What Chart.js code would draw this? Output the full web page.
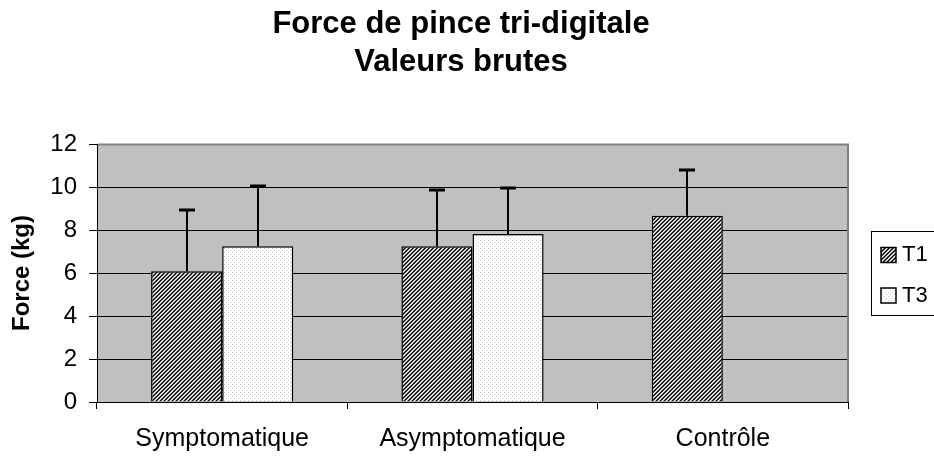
<!DOCTYPE html>
<html>
<head>
<meta charset="utf-8">
<script src="https://cdn.jsdelivr.net/npm/chart.js@4.4.0/dist/chart.umd.min.js"></script>
<style>
  html, body { margin: 0; padding: 0; background: #fff; }
</style>
</head>
<body>
<canvas id="chart" width="934" height="457"></canvas>
<script>
const categories = ["Symptomatique", "Asymptomatique", "Contrôle"];
const t1Values = [6.08, 7.25, 8.66];
const t3Values = [7.25, 7.81, null];
// ecarts (barre d'erreur vers le haut)
const t1Errors = [2.87, 2.59, 2.11];
const t3Errors = [2.81, 2.14, null];
const yTicks = [0, 2, 4, 6, 8, 10, 12];
const titleLines = ["Force de pince tri-digitale", "Valeurs brutes"];

const FONT = '"Liberation Sans", Arial, sans-serif';
const canvas = document.getElementById('chart');
const ctx = canvas.getContext('2d');

function hatchPattern() {
    const c = document.createElement('canvas');
    c.width = 4; c.height = 4;
    const g = c.getContext('2d');
    const shades = ['#000000', '#4a4a4a', '#ffffff', '#b0b0b0'];
    for (let x = 0; x < 4; x++) {
        for (let y = 0; y < 4; y++) {
            g.fillStyle = shades[(x + y) % 4];
            g.fillRect(x, y, 1, 1);
        }
    }
    return ctx.createPattern(c, 'repeat');
}

function dotPattern() {
    const c = document.createElement('canvas');
    c.width = 4; c.height = 4;
    const g = c.getContext('2d');
    g.fillStyle = '#ffffff';
    g.fillRect(0, 0, 4, 4);
    g.fillStyle = '#cccccc';
    g.fillRect(0, 0, 1, 1);
    g.fillRect(2, 2, 1, 1);
    return ctx.createPattern(c, 'repeat');
}

// fond gris de la zone de tracé + bord gris haut/droite
const plotBackground = {
    id: 'plotBackground',
    beforeDraw(chart) {
        const a = chart.chartArea;
        chart.ctx.save();
        chart.ctx.fillStyle = '#c0c0c0';
        chart.ctx.fillRect(a.left, a.top, a.right - a.left, a.bottom - a.top);
        chart.ctx.restore();
    },
    beforeDatasetsDraw(chart) {
        const a = chart.chartArea;
        const c = chart.ctx;
        c.save();
        c.strokeStyle = '#808080';
        c.lineWidth = 2;
        c.beginPath();
        c.moveTo(a.left + 1, a.top + 0.5);
        c.lineTo(a.right, a.top + 0.5);
        c.lineTo(a.right, a.bottom);
        c.stroke();
        c.restore();
    }
};

const errorBars = {
    id: 'errorBars',
    afterDatasetsDraw(chart) {
        const c = chart.ctx;
        const yScale = chart.scales.y;
        c.save();
        c.strokeStyle = '#000';
        chart.data.datasets.forEach((ds, i) => {
            chart.getDatasetMeta(i).data.forEach((bar, j) => {
                const v = ds.data[j];
                const e = ds.errors[j];
                if (v == null || e == null) return;
                const top = Math.round(yScale.getPixelForValue(v + e));
                const x = Math.round(bar.x);
                c.lineWidth = 2;
                c.beginPath();
                c.moveTo(x, bar.y);
                c.lineTo(x, top);
                c.stroke();
                c.lineWidth = 3;
                c.beginPath();
                c.moveTo(x - 8, top);
                c.lineTo(x + 8, top);
                c.stroke();
            });
        });
        c.restore();
    }
};

// titre et légende dessinés à la main
const titleAndLegend = {
    id: 'titleAndLegend',
    afterDraw(chart) {
        const c = chart.ctx;
        const a = chart.chartArea;
        c.save();
        c.fillStyle = '#000';
        c.textAlign = 'center';
        c.textBaseline = 'alphabetic';
        c.font = 'bold 31px ' + FONT;
        titleLines.forEach((line, i) => {
            c.fillText(line, 461, 33 + i * 38);
        });

        const lx = a.right + 23;
        c.strokeStyle = '#000';
        c.lineWidth = 1;
        c.strokeRect(lx + 0.5, 231.5, 100, 84);
        c.textAlign = 'left';
        c.textBaseline = 'middle';
        c.font = '22px ' + FONT;
        chart.data.datasets.forEach((ds, i) => {
            const cy = 255 + i * 40.5;
            c.fillStyle = ds.backgroundColor;
            c.fillRect(lx + 10, cy - 7.5, 15, 15);
            c.lineWidth = 1.5;
            c.strokeRect(lx + 10, cy - 7.5, 15, 15);
            c.fillStyle = '#000';
            c.fillText(ds.label, lx + 31, cy);
        });
        c.restore();
    }
};

new Chart(ctx, {
    type: 'bar',
    data: {
        labels: categories,
        datasets: [
            {
                label: 'T1',
                data: t1Values,
                errors: t1Errors,
                backgroundColor: hatchPattern(),
                borderColor: '#000',
                borderWidth: 1.5
            },
            {
                label: 'T3',
                data: t3Values,
                errors: t3Errors,
                backgroundColor: dotPattern(),
                borderColor: '#000',
                borderWidth: 1.5
            }
        ]
    },
    options: {
        responsive: false,
        animation: false,
        layout: { padding: { top: 144, right: 86, left: 0, bottom: 0 } },
        datasets: { bar: { categoryPercentage: 0.568, barPercentage: 1 } },
        plugins: {
            legend: { display: false },
            title: { display: false },
            tooltip: { enabled: false }
        },
        scales: {
            x: {
                grid: { display: true, drawOnChartArea: false, tickLength: 7, color: '#000', offset: true },
                border: { color: '#000', width: 1 },
                ticks: { color: '#000', font: { family: FONT, size: 25 }, padding: 15, maxRotation: 0 },
                afterFit: s => { s.height = 55; }
            },
            y: {
                min: 0,
                max: 12,
                afterBuildTicks: s => { s.ticks = yTicks.map(v => ({ value: v })); },
                grid: { color: '#000', tickLength: 8 },
                border: { color: '#000', width: 1 },
                ticks: { color: '#000', font: { family: FONT, size: 24 }, padding: 12 },
                title: {
                    display: true,
                    text: 'Force (kg)',
                    color: '#000',
                    font: { family: FONT, size: 24, weight: 'bold' },
                    padding: { top: 8, bottom: 0 }
                },
                afterFit: s => { s.width = 97; }
            }
        }
    },
    plugins: [plotBackground, errorBars, titleAndLegend]
});
</script>
</body>
</html>
